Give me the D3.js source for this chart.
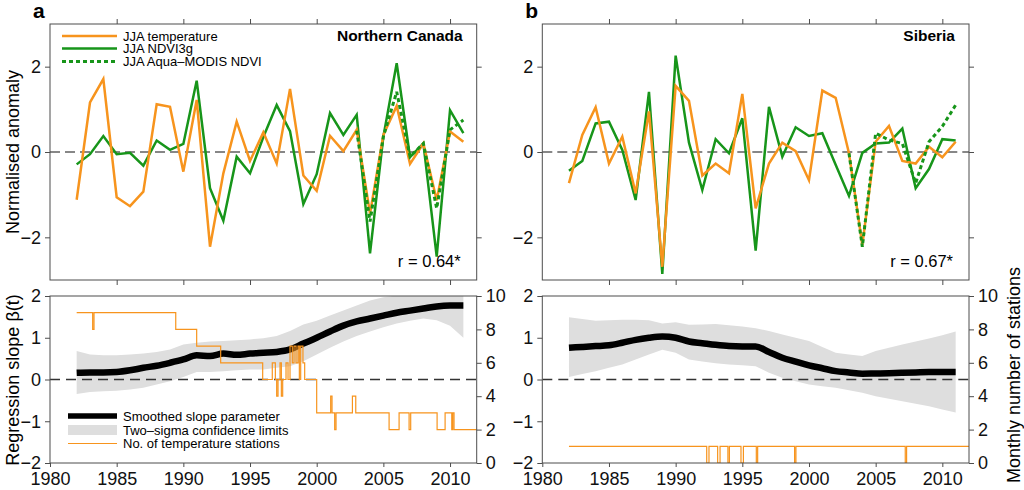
<!DOCTYPE html>
<html>
<head>
<meta charset="utf-8">
<script src="https://cdn.jsdelivr.net/npm/d3@7"></script>
<style>
  body { margin: 0; background: #fff; }
  svg { font-family: "Liberation Sans", Arial, sans-serif; }
</style>
</head>
<body>
<svg width="1024" height="490"></svg>
<script>
// ---- data ----
const years = [1982, 1983, 1984, 1985, 1986, 1987, 1988, 1989, 1990, 1991,
  1992, 1993, 1994, 1995, 1996, 1997, 1998, 1999, 2000, 2001,
  2002, 2003, 2004, 2005, 2006, 2007, 2008, 2009, 2010, 2011];
const modisYears = [2003, 2004, 2005, 2006, 2007, 2008, 2009, 2010, 2011];

const canTemp = [-1.12, 1.16, 1.71, -1.06, -1.27, -0.93, 1.12, 1.06, -0.46, 1.22,
  -2.22, -0.5, 0.71, -0.21, 0.46, -0.27, 1.48, -0.55, -0.91, 0.38,
  0.02, 0.52, -1.44, 0.4, 1.08, -0.28, 0.2, -1.13, 0.48, 0.24];
const canNdvi = [-0.29, -0.05, 0.375, -0.05, -0.02, -0.32, 0.27, 0.05, 0.19, 1.67,
  -0.85, -1.61, -0.11, -0.5, 0.35, 1.1, 0.49, -1.22, -0.52, 0.91,
  0.4, 0.87, -2.375, 0.36, 2.08, -0.12, 0.2, -2.45, 0.98, 0.44];
const canModis = [0.5, -1.63, 0.36, 1.41, -0.11, 0.2, -1.32, 0.52, 0.75];

const sibTemp = [-0.73, 0.4, 1.05, -0.27, 0.36, -0.97, 0.95, -2.69, 1.55, 1.2,
  -0.55, -0.27, -0.5, 1.36, -1.32, -0.27, 0.22, 0.02, -0.66, 1.44,
  1.27, -0.03, -2.18, 0.24, 0.61, -0.21, -0.27, 0.125, -0.125, 0.24];
const sibNdvi = [-0.44, -0.21, 0.67, 0.71, 0.05, -1.125, 1.41, -2.86, 2.26, 0.22,
  -0.89, 0.3, -0.03, 0.79, -2.31, 1.06, -0.11, 0.58, 0.375, 0.44,
  -0.3, -1.03, -0.02, 0.2, 0.22, 0.55, -0.85, -0.4, 0.3, 0.27];
const sibModis = [-0.03, -2.22, 0.44, 0.28, 0.2, -0.73, 0.24, 0.6, 1.1];

const canSlope = [0.16, 0.17, 0.17, 0.18, 0.22, 0.28, 0.33, 0.4, 0.48, 0.58,
  0.56, 0.62, 0.59, 0.62, 0.64, 0.66, 0.72, 0.86, 1.0, 1.15,
  1.29, 1.39, 1.46, 1.53, 1.6, 1.65, 1.7, 1.75, 1.77, 1.77];
const canUpper = [0.68, 0.6, 0.58, 0.58, 0.6, 0.62, 0.66, 0.72, 0.84, 0.88,
  0.91, 0.92, 0.94, 0.96, 0.99, 1.04, 1.16, 1.32, 1.41, 1.53,
  1.65, 1.77, 1.89, 1.97, 2.01, 2.1, 2.15, 2.2, 2.2, 2.2];
const canLower = [-0.35, -0.3, -0.28, -0.27, -0.24, -0.2, -0.12, -0.04, 0.06, 0.18,
  0.18, 0.2, 0.22, 0.24, 0.24, 0.28, 0.32, 0.44, 0.6, 0.76,
  0.91, 1.04, 1.15, 1.25, 1.34, 1.41, 1.46, 1.42, 1.29, 1.0];

const sibSlope = [0.76, 0.78, 0.8, 0.82, 0.88, 0.95, 1.0, 1.03, 1.0, 0.91,
  0.87, 0.83, 0.8, 0.79, 0.79, 0.66, 0.52, 0.43, 0.34, 0.27,
  0.2, 0.17, 0.14, 0.145, 0.15, 0.16, 0.17, 0.18, 0.18, 0.18];
const sibUpper = [1.49, 1.45, 1.41, 1.42, 1.43, 1.43, 1.42, 1.34, 1.37, 1.31,
  1.32, 1.33, 1.3, 1.27, 1.23, 1.16, 1.08, 1.0, 0.92, 0.78,
  0.64, 0.6, 0.56, 0.68, 0.76, 0.84, 0.91, 0.98, 1.06, 1.15];
const sibLower = [0.06, 0.13, 0.2, 0.28, 0.36, 0.48, 0.6, 0.71, 0.64, 0.48,
  0.43, 0.39, 0.36, 0.34, 0.32, 0.16, 0.04, -0.04, -0.12, -0.16,
  -0.2, -0.26, -0.32, -0.4, -0.46, -0.52, -0.58, -0.64, -0.72, -0.79];

// monthly station counts, as change points (time, count)
const canStTime = [1982.0, 1983.2, 1983.3, 1989.43, 1991.0, 1992.8, 1995.95, 1996.67, 1996.9, 1997.0,
  1997.1, 1997.25, 1997.35, 1997.45, 1997.7, 1997.85, 1998.0, 1998.17, 1998.3, 1998.45,
  1998.6, 1998.7, 1998.8, 1998.97, 1999.1, 2000.0, 2001.05, 2001.15, 2001.35, 2001.45,
  2002.68, 2002.93, 2005.43, 2006.18, 2006.93, 2007.05, 2009.03, 2009.63, 2010.13, 2010.2,
  2010.3, 2012.0];
const canStCount = [9, 8, 9, 8, 7, 6, 5, 6, 5, 4,
  5, 6, 4, 5, 6, 5, 7, 6, 7, 6,
  7, 5, 7, 6, 5, 3, 4, 3, 2, 3,
  4, 3, 2, 3, 2, 3, 2, 3, 2, 3,
  2, 2];
const sibStTime = [1982.0, 1992.33, 1992.5, 1993.15, 1993.33, 1993.92, 1994.03, 1994.9, 1995.08,
  1996.05, 1996.15, 1998.92, 1999.02, 2007.22, 2007.32, 2012.0];
const sibStCount = [1, 0, 1, 0, 1, 0, 1, 0, 1, 0, 1, 0, 1, 0, 1, 1];

const xTicks = [1980, 1985, 1990, 1995, 2000, 2005, 2010];

// ---- layout ----
const svg = d3.select("svg");
const orange = "#f7941d";
const green = "#17951a";
const spine = "#4d4d4d";
const topY = [24, 280];
const botY = [296, 463];
const fmt = d3.format("d");

const panels = [
  { id: "a", left: 50, right: 476.7, title: "Northern Canada", r: "r = 0.64*",
    temp: canTemp, ndvi: canNdvi, modis: canModis,
    slope: canSlope, upper: canUpper, lower: canLower,
    stT: canStTime, stN: canStCount, legend: true },
  { id: "b", left: 542.3, right: 969, title: "Siberia", r: "r = 0.67*",
    temp: sibTemp, ndvi: sibNdvi, modis: sibModis,
    slope: sibSlope, upper: sibUpper, lower: sibLower,
    stT: sibStTime, stN: sibStCount, legend: false }
];

function styleAxis(g, fs) {
  g.select(".domain").remove();
  g.selectAll(".tick line").attr("stroke", spine);
  g.selectAll(".tick text").attr("fill", "#111").style("font-size", fs + "px");
}

panels.forEach((p, i) => {
  const x = d3.scaleLinear().domain([1980, 2012]).range([p.left, p.right]);
  const yT = d3.scaleLinear().domain([-3, 3]).range([topY[1], topY[0]]);
  const yB = d3.scaleLinear().domain([-2, 2]).range([botY[1], botY[0]]);
  const yS = d3.scaleLinear().domain([0, 10]).range([botY[1], botY[0]]);

  // clip paths
  const defs = svg.append("defs");
  defs.append("clipPath").attr("id", "clipT" + i).append("rect")
    .attr("x", p.left).attr("y", topY[0]).attr("width", p.right - p.left).attr("height", topY[1] - topY[0]);
  defs.append("clipPath").attr("id", "clipB" + i).append("rect")
    .attr("x", p.left).attr("y", botY[0]).attr("width", p.right - p.left).attr("height", botY[1] - botY[0]);

  // ----- top panel -----
  const top = svg.append("g").attr("clip-path", `url(#clipT${i})`);
  top.append("line")
    .attr("x1", p.left).attr("x2", p.right)
    .attr("y1", yT(0)).attr("y2", yT(0))
    .attr("stroke", "#111").attr("stroke-width", 1.2).attr("stroke-dasharray", "10,5");

  const line = d3.line().x(d => x(d[0])).y(d => yT(d[1]));
  const pts = arr => years.map((yr, k) => [yr, arr[k]]);

  top.append("path").datum(pts(p.ndvi)).attr("d", line)
    .attr("fill", "none").attr("stroke", green).attr("stroke-width", 2.5);
  top.append("path").datum(pts(p.temp)).attr("d", line)
    .attr("fill", "none").attr("stroke", orange).attr("stroke-width", 2.5);
  top.append("path").datum(modisYears.map((yr, k) => [yr, p.modis[k]])).attr("d", line)
    .attr("fill", "none").attr("stroke", green).attr("stroke-width", 3).attr("stroke-dasharray", "4,3");

  svg.append("rect")
    .attr("x", p.left).attr("y", topY[0]).attr("width", p.right - p.left).attr("height", topY[1] - topY[0])
    .attr("fill", "none").attr("stroke", spine).attr("stroke-width", 1);

  svg.append("g").attr("transform", `translate(${p.left},0)`)
    .call(d3.axisLeft(yT).tickValues([-2, 0, 2]).tickSize(5).tickPadding(4).tickFormat(fmt))
    .call(g => styleAxis(g, 18));
  svg.append("g").attr("transform", `translate(${p.right},0)`)
    .call(d3.axisRight(yT).tickValues([-2, 0, 2]).tickSize(5).tickFormat(""))
    .call(g => styleAxis(g, 18));
  svg.append("g").attr("transform", `translate(0,${topY[0]})`)
    .call(d3.axisTop(x).tickValues(xTicks.slice(1)).tickSize(5).tickFormat(""))
    .call(g => styleAxis(g, 18));
  svg.append("g").attr("transform", `translate(0,${topY[1]})`)
    .call(d3.axisBottom(x).tickValues(xTicks.slice(1)).tickSize(5).tickFormat(""))
    .call(g => styleAxis(g, 18));

  svg.append("text").attr("x", p.right - 14).attr("y", 41)
    .attr("text-anchor", "end").attr("font-weight", "bold").style("font-size", "15.5px")
    .text(p.title);
  svg.append("text").attr("x", p.right - 16).attr("y", 267)
    .attr("text-anchor", "end").style("font-size", "16.5px")
    .text(p.r);
  svg.append("text").attr("x", p.left - 17).attr("y", 18)
    .attr("font-weight", "bold").style("font-size", "21px")
    .text(p.id);

  // ----- bottom panel -----
  const bot = svg.append("g").attr("clip-path", `url(#clipB${i})`);
  const band = d3.area().x((d, k) => x(years[k])).y0(d => yB(d[0])).y1(d => yB(d[1]));
  bot.append("path").datum(p.lower.map((v, k) => [v, p.upper[k]])).attr("d", band)
    .attr("fill", "#dedede");
  bot.append("line")
    .attr("x1", p.left).attr("x2", p.right)
    .attr("y1", yB(0)).attr("y2", yB(0))
    .attr("stroke", "#333").attr("stroke-width", 1.3).attr("stroke-dasharray", "10,6");
  bot.append("path").datum(p.slope.map((v, k) => [years[k], v]))
    .attr("d", d3.line().x(d => x(d[0])).y(d => yB(d[1])).curve(d3.curveMonotoneX))
    .attr("fill", "none").attr("stroke", "#000").attr("stroke-width", 6.5);
  bot.append("path").datum(p.stT.map((t, k) => [t, p.stN[k]]))
    .attr("d", d3.line().x(d => x(d[0])).y(d => yS(d[1])).curve(d3.curveStepAfter))
    .attr("fill", "none").attr("stroke", orange).attr("stroke-width", 1.2);

  svg.append("rect")
    .attr("x", p.left).attr("y", botY[0]).attr("width", p.right - p.left).attr("height", botY[1] - botY[0])
    .attr("fill", "none").attr("stroke", spine).attr("stroke-width", 1);

  svg.append("g").attr("transform", `translate(${p.left},0)`)
    .call(d3.axisLeft(yB).tickValues([-2, -1, 0, 1, 2]).tickSize(5).tickPadding(4).tickFormat(fmt))
    .call(g => styleAxis(g, 18));
  svg.append("g").attr("transform", `translate(${p.right},0)`)
    .call(d3.axisRight(yS).tickValues([0, 2, 4, 6, 8, 10]).tickSize(5).tickPadding(4).tickFormat(fmt))
    .call(g => styleAxis(g, 18));
  svg.append("g").attr("transform", `translate(0,${botY[1]})`)
    .call(d3.axisBottom(x).tickValues(xTicks).tickSize(4).tickPadding(5).tickFormat(fmt))
    .call(g => styleAxis(g, 18));

  // ----- legends -----
  if (p.legend) {
    const lt = [
      { y: 36, color: orange, dash: null, w: 2.5, label: "JJA temperature" },
      { y: 48.5, color: green, dash: null, w: 2.5, label: "JJA NDVI3g" },
      { y: 61.5, color: green, dash: "4,3", w: 3, label: "JJA Aqua\u2013MODIS NDVI" }
    ];
    lt.forEach(d => {
      svg.append("line").attr("x1", 62).attr("x2", 117).attr("y1", d.y).attr("y2", d.y)
        .attr("stroke", d.color).attr("stroke-width", d.w).attr("stroke-dasharray", d.dash);
      svg.append("text").attr("x", 123).attr("y", d.y + 4.5).style("font-size", "13px").text(d.label);
    });

    svg.append("line").attr("x1", 68).attr("x2", 117).attr("y1", 416).attr("y2", 416)
      .attr("stroke", "#000").attr("stroke-width", 5.5);
    svg.append("text").attr("x", 123).attr("y", 421).style("font-size", "13px").text("Smoothed slope parameter");
    svg.append("rect").attr("x", 68).attr("y", 425).attr("width", 49).attr("height", 10).attr("fill", "#dedede");
    svg.append("text").attr("x", 123).attr("y", 434.5).style("font-size", "13px").text("Two\u2013sigma confidence limits");
    svg.append("line").attr("x1", 68).attr("x2", 117).attr("y1", 443.5).attr("y2", 443.5)
      .attr("stroke", orange).attr("stroke-width", 1.2);
    svg.append("text").attr("x", 123).attr("y", 448).style("font-size", "13px").text("No. of temperature stations");
  }
});

// axis titles
svg.append("text").attr("transform", "translate(19,152) rotate(-90)")
  .attr("text-anchor", "middle").style("font-size", "18px").text("Normalised anomaly");
svg.append("text").attr("transform", "translate(19,380) rotate(-90)")
  .attr("text-anchor", "middle").style("font-size", "18px").text("Regression slope \u03b2(t)");
svg.append("text").attr("transform", "translate(1020,375) rotate(-90)")
  .attr("text-anchor", "middle").style("font-size", "18px").text("Monthly number of stations");
</script>
</body>
</html>
